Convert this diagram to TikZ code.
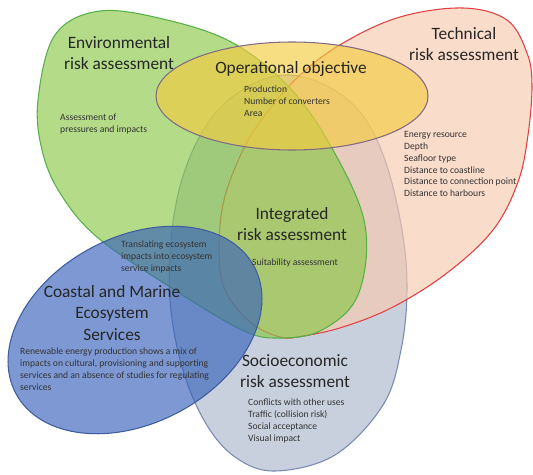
\documentclass[tikz,border=0pt]{standalone}
\usepackage{fontspec}
\setmainfont{Carlito}
\usepackage{tikz}
\usetikzlibrary{positioning}
\definecolor{envfill}{RGB}{138,200,72}
\definecolor{envline}{RGB}{86,176,70}
\definecolor{techfill}{RGB}{247,201,173}
\definecolor{techline}{RGB}{226,62,66}
\definecolor{socfill}{RGB}{170,183,204}
\definecolor{socline}{RGB}{120,138,176}
\definecolor{coastfill}{RGB}{55,97,186}
\definecolor{coastline}{RGB}{62,92,158}
\definecolor{opfill}{RGB}{244,204,63}
\definecolor{opline}{RGB}{128,106,132}
\tikzstyle{zone} = [line width=0.9pt, fill opacity=0.65]
\tikzstyle{envzone} = [zone, draw=envline, fill=envfill]
\tikzstyle{techzone} = [zone, draw=techline, fill=techfill]
\tikzstyle{soczone} = [zone, draw=socline, fill=socfill]
\tikzstyle{coastzone} = [zone, draw=coastline, fill=coastfill]
\tikzstyle{opzone} = [zone, draw=opline, fill=opfill]
\tikzstyle{title} = [font=\fontsize{14.8}{18}\selectfont, align=center, text=black!85, inner sep=0pt]
\tikzstyle{note} = [font=\fontsize{8.2}{10.2}\selectfont, align=left, anchor=west, text=black!80, inner sep=0pt]

\begin{document}
\begin{tikzpicture}[x=0.03cm, y=-0.03cm]
    \useasboundingbox (0,0) rectangle (533,474);

    \draw [soczone] plot [smooth cycle, tension=0.6] coordinates {(172,230) (185,170) (210,120) (245,88) (285,75) (325,85) (360,112) (385,160) (402,230) (407,290) (401,350) (383,405) (335,455) (275,471) (235,457) (205,422) (182,367) (170,300)};
    \draw [techzone] plot [smooth cycle, tension=0.6] coordinates {(343,43) (400,17) (463,8) (507,20) (527,53) (532,85) (528,135) (518,182) (493,230) (447,273) (393,307) (343,327) (303,336) (280,337) (250,322) (225,290) (219,250) (224,200) (243,150) (265,115) (300,75)};
    \draw [envzone] plot [smooth cycle, tension=0.6] coordinates {(38,100) (55,35) (100,11) (167,20) (233,43) (290,88) (333,150) (365,225) (358,295) (322,330) (280,338) (242,330) (170,287) (97,237) (60,193) (42,150)};
    \draw [opzone] (292,96) ellipse [x radius=136, y radius=54];
    \draw [coastzone, rotate around={28:(135,330)}] (135,330) ellipse [x radius=135, y radius=93];

    \node [title] (envtitle) at (119,53) {Environmental\\risk assessment};
    \node [note] (envnote) at (60,124) {Assessment of\\pressures and impacts};
    \node [title] (optitle) at (291,69) {Operational objective};
    \node [note] (opnote) at (244,101) {Production\\Number of converters\\Area};
    \node [title] (techtitle) at (464,44) {Technical\\risk assessment};
    \node [note] (technote) at (404,164) {Energy resource\\Depth\\Seafloor type\\Distance to coastline\\Distance to connection point\\Distance to harbours};
    \node [title] (inttitle) at (292,224) {Integrated\\risk assessment};
    \node [note, anchor=center] (intnote) at (295,263) {Suitability assessment};
    \node [note] (transnote) at (121,257) {Translating ecosystem\\impacts into ecosystem\\service impacts};
    \node [title] (coasttitle) at (112,313) {Coastal and Marine\\Ecosystem\\Services};
    \node [note] (coastnote) at (20,369) {Renewable energy production shows a mix of\\impacts on cultural, provisioning and supporting\\services and an absence of studies for regulating\\services};
    \node [title] (soctitle) at (295,371) {Socioeconomic\\risk assessment};
    \node [note] (socnote) at (248,421) {Conflicts with other uses\\Traffic (collision risk)\\Social acceptance\\Visual impact};
\end{tikzpicture}
\end{document}
